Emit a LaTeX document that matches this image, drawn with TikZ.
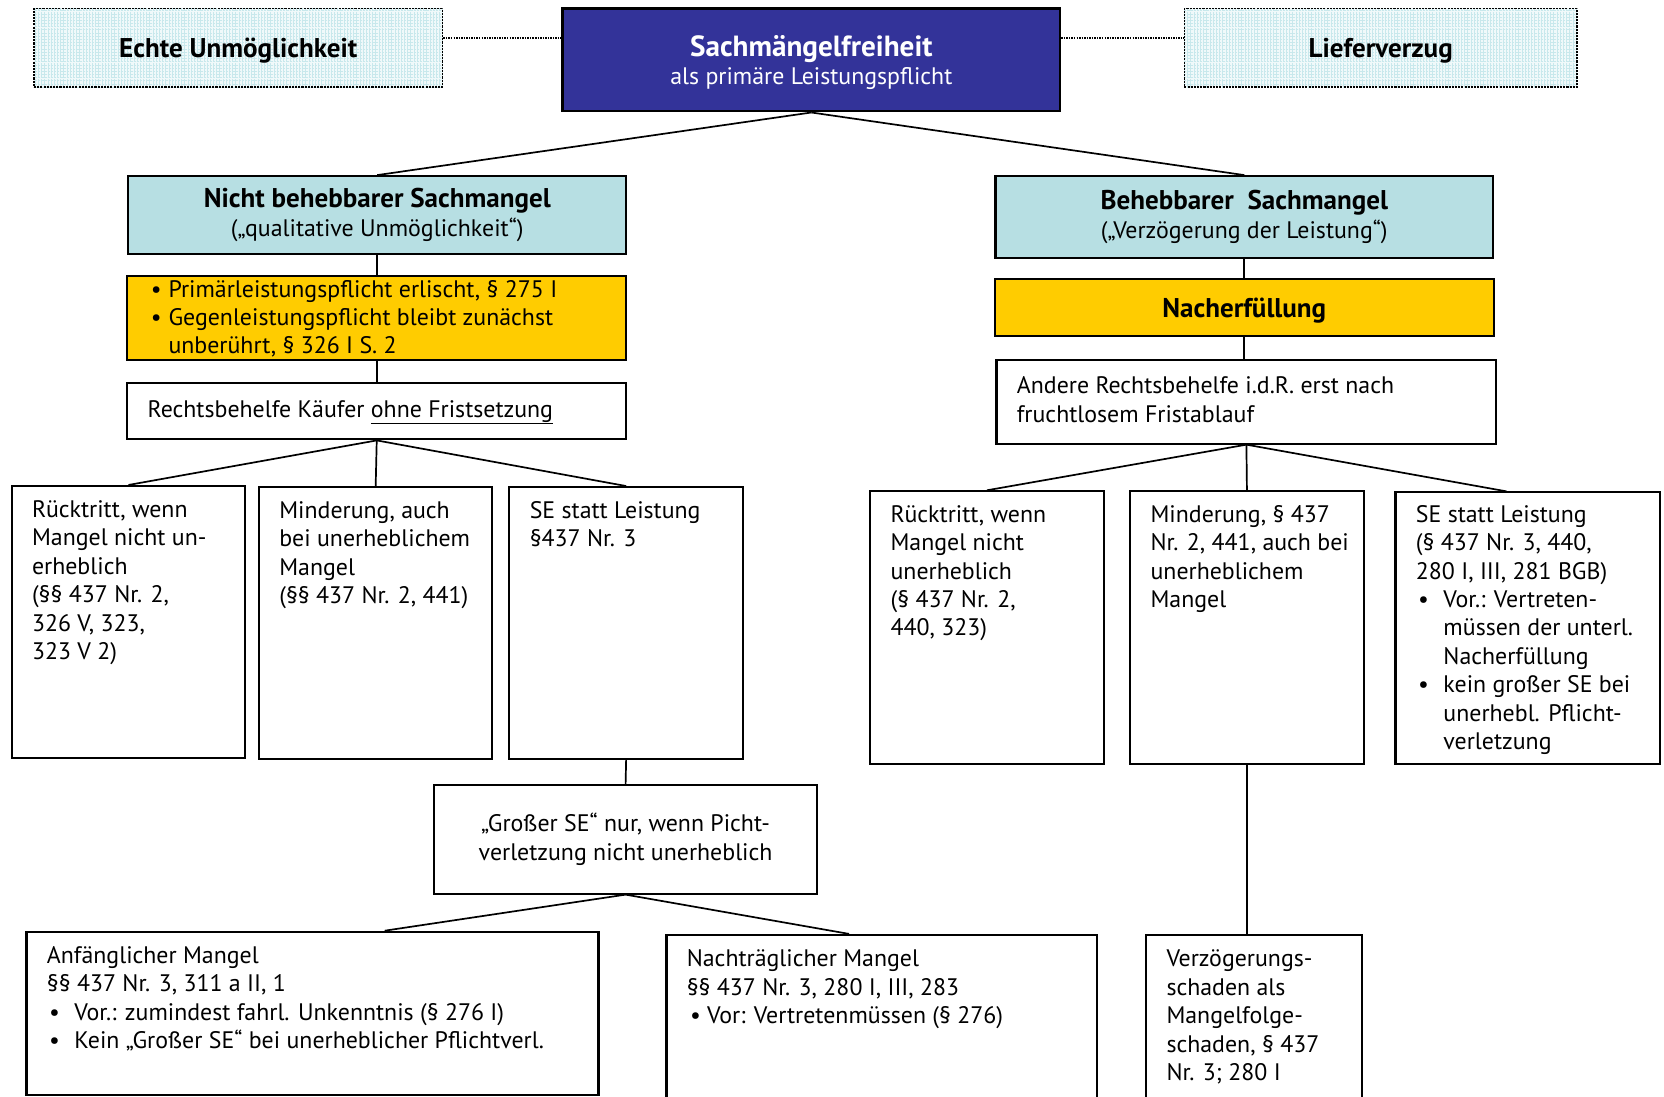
\documentclass[tikz,border=0pt]{standalone}
\usepackage{fontspec}
\setmainfont{PT Sans}
\usepackage{xcolor}
\usetikzlibrary{
    patterns,
    positioning,
    calc
}

\definecolor{navy}{RGB}{51,51,153}
\definecolor{paleblue}{RGB}{183,223,227}
\definecolor{gold}{RGB}{255,204,0}
\definecolor{gridblue}{RGB}{200,232,236}
\definecolor{toplight}{RGB}{240,249,250}

\newcommand{\itm}[1][26pt]{\makebox[#1][l]{\hspace{2pt}\textbullet}}

\begin{document}
\begin{tikzpicture}[x=1pt, y=-1pt,
    font=\fontsize{22.5}{26.8}\selectfont,
    box/.style={draw, line width=2pt, inner sep=0pt, align=center},
    topbox/.style={box, densely dotted, line width=1.5pt, preaction={fill=toplight},
                   pattern=grid, pattern color=gridblue, text height=18pt, text depth=0pt,
                   font=\fontsize{25.5}{30}\selectfont\bfseries},
    headbox/.style={box, fill=paleblue, minimum width=469pt},
    cell/.style={box, minimum width=220pt, minimum height=256pt},
    txt/.style={anchor=base west, align=left, inner sep=0pt},
    link/.style={line width=1.6pt},
    dotline/.style={densely dotted, line width=1.4pt}]

    \path[use as bounding box, clip] (0,0) rectangle (1568,1033);

    % Top row
    \node[topbox, minimum width=385pt, minimum height=74pt] (ET) at (224.5,45) {Echte Unmöglichkeit};
    \node[box, fill=navy, text=white, text depth=0pt, minimum width=469pt, minimum height=97pt] (SM) at (764.5,56.5)
      {{\fontsize{27.5}{31}\selectfont\bfseries Sachmängelfreiheit}\\als primäre Leistungspflicht};
    \node[topbox, minimum width=370pt, minimum height=74pt] (LV) at (1301,45) {Lieferverzug};
    \draw[dotline] ([yshift=9pt]ET.east) -- ([yshift=9pt]ET.east -| SM.west);
    \draw[dotline] ([yshift=9pt]LV.west -| SM.east) -- ([yshift=9pt]LV.west);

    % Nicht behebbar
    \node[headbox, minimum height=73pt] (NB) at (355.5,202.5)
      {{\fontsize{25.5}{28}\selectfont\bfseries Nicht behebbarer Sachmangel}\\(„qualitative Unmöglichkeit“)};
    \draw[link] (SM.south) -- (NB.north);

    \node[box, fill=gold, minimum width=470pt, minimum height=79pt] (PL) at (355,299.5) {};
    \node[txt] (PLt) at ($(PL.north west)+(21,74.5)$)
      {\itm[18.6pt]Primärleistungspflicht erlischt, § 275 I\\
       \itm[18.6pt]Gegenleistungspflicht bleibt zunächst\\
       \hspace*{18.6pt}unberührt, § 326 I S. 2};
    \draw[link] (NB.south) -- (NB.south |- PL.north);

    \node[box, minimum width=470pt, minimum height=53pt] (RK) at (355,387.5) {};
    \node[txt] (RKt) at ($(RK.north west)+(20,33)$) {Rechtsbehelfe Käufer \underline{ohne Fristsetzung}};
    \draw[link] (PL.south) -- (RK.north);

    % Rechtsbehelfe ohne Frist
    \node[cell] (L1) at (121,586) {};
    \node[txt] (L1t) at ($(L1.north west)+(20,164.5)$)
      {Rücktritt, wenn\\Mangel nicht un-\\erheblich\\(§§ 437 Nr. 2,\\326 V, 323,\\323 V 2)};
    \node[cell] (L2) at (354,587) {};
    \node[txt] (L2t) at ($(L2.north west)+(20,110.9)$)
      {Minderung, auch\\bei unerheblichem\\Mangel\\(§§ 437 Nr. 2, 441)};
    \node[cell] (L3) at (590,587) {};
    \node[txt] (L3t) at ($(L3.north west)+(20,57.3)$)
      {SE statt Leistung\\§437 Nr. 3};
    \draw[link] (RK.south) -- (L1.north);
    \draw[link] (RK.south) -- (L2.north);
    \draw[link] (RK.south) -- (L3.north);

    % Grosser SE
    \node[box, minimum width=361pt, minimum height=102pt] (GS) at (589.5,791)
      {„Großer SE“ nur, wenn Picht-\\verletzung nicht unerheblich};
    \draw[link] (L3.south) -- (GS.north);

    \node[box, minimum width=539pt, minimum height=154pt] (AM) at (294.5,955) {};
    \node[txt] (AMt) at ($(AM.north west)+(20,111.1)$)
      {Anfänglicher Mangel\\§§ 437 Nr. 3, 311 a II, 1\\
       \itm Vor.: zumindest fahrl. Unkenntnis (§ 276 I)\\
       \itm Kein „Großer SE“ bei unerheblicher Pflichtverl.};
    \node[box, minimum width=406pt, minimum height=170pt] (NM) at (831,966) {};
    \node[txt] (NMt) at ($(NM.north west)+(20,84.6)$)
      {Nachträglicher Mangel\\§§ 437 Nr. 3, 280 I, III, 283\\\hspace*{3pt}• Vor: Vertretenmüssen (§ 276)};
    \draw[link] (GS.south) -- ($(AM.north)+(68,0)$);
    \draw[link] (GS.south) -- ($(NM.north)+(-31,0)$);

    % Behebbar
    \node[headbox, minimum height=77pt] (BB) at (1172.5,204.5)
      {{\fontsize{25.5}{28}\selectfont\bfseries Behebbarer\ \ Sachmangel}\\(„Verzögerung der Leistung“)};
    \draw[link] (SM.south) -- (BB.north);

    \node[box, fill=gold, minimum width=470pt, minimum height=54pt, text height=18pt, text depth=0pt,
          font=\fontsize{25.5}{28}\selectfont\bfseries] (NE) at (1172.5,290) {Nacherfüllung};
    \draw[link] (BB.south) -- (BB.south |- NE.north);

    \node[box, minimum width=471pt, minimum height=79pt] (AR) at (1174.5,378.5) {};
    \node[txt] (ARt) at ($(AR.north west)+(20,60)$)
      {Andere Rechtsbehelfe i.d.R. erst nach\\fruchtlosem Fristablauf};
    \draw[link] (NE.south) -- (NE.south |- AR.north);

    % Rechtsbehelfe nach Frist
    \node[cell, minimum height=257pt] (R1) at (930,591.5) {};
    \node[txt] (R1t) at ($(R1.north west)+(20,137.2)$)
      {Rücktritt, wenn\\Mangel nicht\\unerheblich\\(§ 437 Nr. 2,\\440, 323)};
    \node[cell, minimum height=257pt] (R2) at (1175,591.5) {};
    \node[txt] (R2t) at ($(R2.north west)+(20,110.4)$)
      {Minderung, § 437\\Nr. 2, 441, auch bei\\unerheblichem\\Mangel};
    \node[cell, minimum width=249pt] (R3) at (1439.5,592) {};
    \node[txt] (R3t) at ($(R3.north west)+(20,243.4)$)
      {SE statt Leistung\\(§ 437 Nr. 3, 440,\\280 I, III, 281 BGB)\\
       \itm Vor.: Vertreten-\\\hspace*{26pt}müssen der unterl.\\\hspace*{26pt}Nacherfüllung\\
       \itm kein großer SE bei\\\hspace*{26pt}unerhebl. Pflicht-\\\hspace*{26pt}verletzung};
    \draw[link] (AR.south) -- (R1.north);
    \draw[link] (AR.south) -- (R2.north);
    \draw[link] (AR.south) -- ($(R3.north)+(-20,0)$);

    \node[box, minimum width=203pt, minimum height=170pt] (VS) at (1181.5,966) {};
    \node[txt] (VSt) at ($(VS.north west)+(20,138.2)$)
      {Verzögerungs-\\schaden als\\Mangelfolge-\\schaden, § 437\\Nr. 3; 280 I};
    \draw[link] (R2.south) -- (R2.south |- VS.north);

  \end{tikzpicture}
\end{document}
